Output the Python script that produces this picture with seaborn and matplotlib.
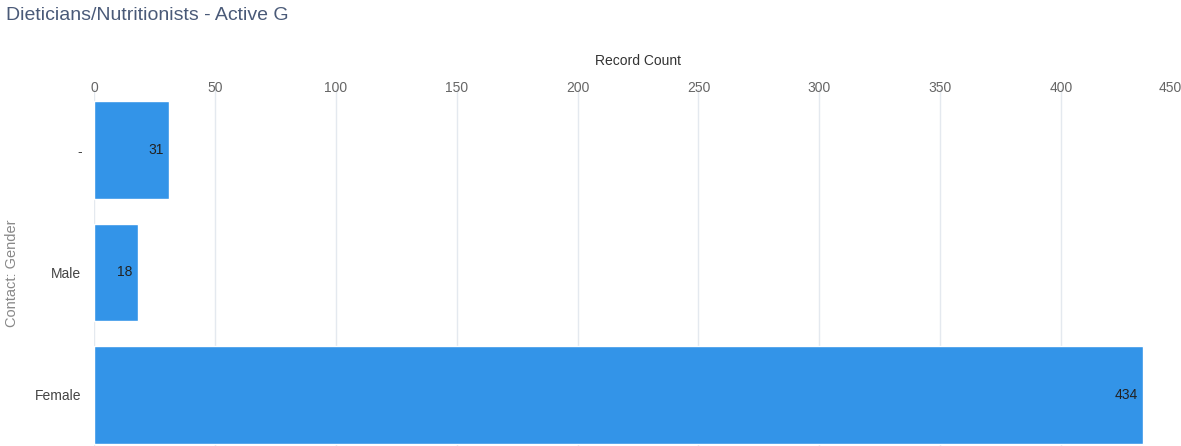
import matplotlib
matplotlib.use("Agg")
import matplotlib.pyplot as plt
import seaborn as sns
import pandas as pd

categories = ["-", "Male", "Female"]
counts = [31, 18, 434]
xticks = [0, 50, 100, 150, 200, 250, 300, 350, 400, 450]

sns.set_style("white")
plt.rcParams['font.family'] = ['Liberation Sans', 'DejaVu Sans']

W, H = 1181, 446
fig = plt.figure(figsize=(W / 100, H / 100), dpi=100)
left, right, top, bottom = 94, 1182, 89, 456
ax = fig.add_axes([left / W, (H - bottom) / H, (right - left) / W, (bottom - top) / H])

df = pd.DataFrame({"gender": categories, "count": counts})
sns.barplot(data=df, x="count", y="gender", orient="h", color="#3394e8",
            saturation=1, width=0.8, ax=ax, zorder=3)

ax.set_xlim(0, 450)
ax.set_ylim(2.5, -0.5)
ax.set_xticks(xticks)
ax.set_xticklabels([str(t) for t in xticks])
ax.xaxis.tick_top()
ax.xaxis.set_label_position("top")
ax.tick_params(axis="x", length=0, labelsize=10, labelcolor="#666666", pad=-4)
ax.tick_params(axis="y", length=0, labelsize=10, labelcolor="#444444", pad=9)
ax.get_xticklabels()[-1].set_horizontalalignment("right")
ax.grid(axis="x", color="#e4e9ef", linewidth=1, zorder=0)
for s in ax.spines.values():
    s.set_visible(False)

ax.set_xlabel("Record Count", fontsize=10, color="#333333", labelpad=11)
ax.set_ylabel("")
fig.text(12 / W, 1 - 273 / H, "Contact: Gender", rotation=90, ha="center", va="center",
         fontsize=10.5, color="#888888")

for i, v in enumerate(counts):
    ax.annotate(str(v), xy=(v, i), xytext=(-4, 0), textcoords="offset points",
                ha="right", va="center", fontsize=10, color="#222222", zorder=4)

fig.text(6 / W, 1 - 15 / H, "Dieticians/Nutritionists - Active G", ha="left", va="center",
         fontsize=14, color="#4a5a78")

fig.savefig("out.png", dpi=100)
